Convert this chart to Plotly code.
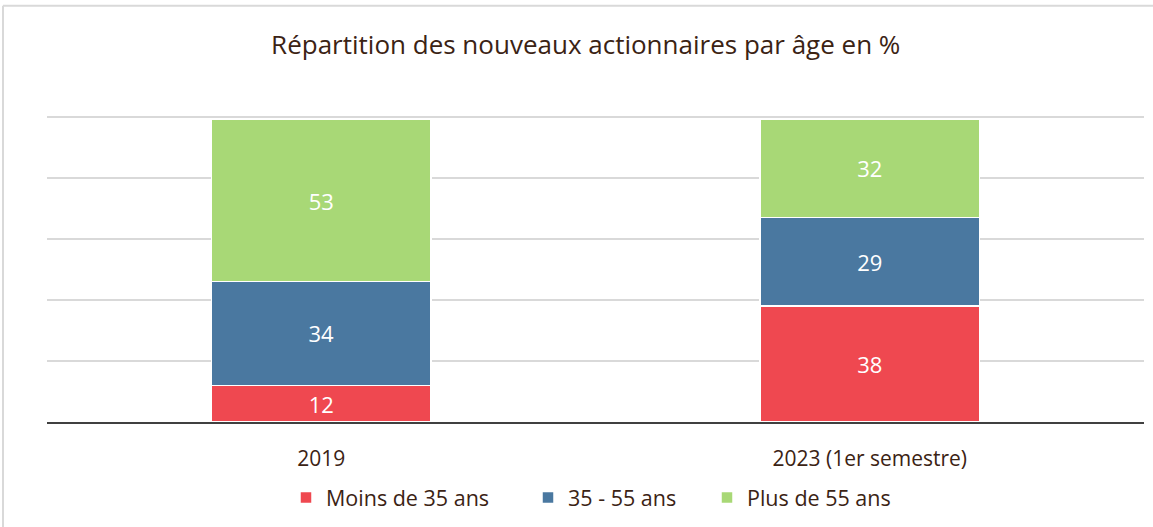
import plotly.graph_objects as go

categories = ["2019", "2023 (1er semestre)"]
series_names = ["Moins de 35 ans", "35 - 55 ans", "Plus de 55 ans"]
moins_35 = [12, 38]
de_35_55 = [34, 29]
plus_55 = [53, 32]
colors = ["#EF4850", "#4A78A0", "#A8D876"]

values = [moins_35, de_35_55, plus_55]
text_color = "#3B2314"
font_family = "'Open Sans', Lato, sans-serif"

W, H = 1153, 527
L, R, T, B = 47, 9, 115, 103
plot_w = W - L - R
plot_h = H - T - B

legend_names = ["legend", "legend2", "legend3"]
legend_item_px = [286, 528, 707]

fig = go.Figure()
for name, vals, col, lg in zip(series_names, values, colors, legend_names):
    fig.add_trace(go.Bar(
        x=categories, y=vals, name=name, legend=lg,
        marker=dict(color=col, line=dict(color="white", width=1.5)),
        text=[str(v) for v in vals], textposition="inside",
        insidetextanchor="middle",
        textfont=dict(color="white", size=22, family=font_family),
        hoverinfo="skip",
    ))

leg_y = (H - B - 500) / plot_h
legend_common = dict(orientation="h", y=leg_y, yanchor="middle", xanchor="left",
                     font=dict(size=21.5, color=text_color, family=font_family),
                     bgcolor="rgba(0,0,0,0)", itemwidth=30)

fig.update_layout(
    barmode="stack",
    bargap=0.6,
    width=W, height=H,
    margin=dict(l=L, r=R, t=T, b=B),
    paper_bgcolor="white", plot_bgcolor="white",
    title=dict(text="Répartition des nouveaux actionnaires par âge en %",
               x=0.508, xanchor="center", y=1 - 45 / H, yanchor="middle",
               font=dict(size=26, color=text_color, family=font_family)),
    font=dict(family=font_family, color=text_color),
    showlegend=True,
    legend=dict(x=(legend_item_px[0] - L) / plot_w, **legend_common),
    legend2=dict(x=(legend_item_px[1] - L) / plot_w, **legend_common),
    legend3=dict(x=(legend_item_px[2] - L) / plot_w, **legend_common),
    uniformtext=dict(mode="show", minsize=10),
)
fig.update_xaxes(showline=True, linecolor="#404040", linewidth=2,
                 tickfont=dict(size=21, color=text_color, family=font_family),
                 ticks="", ticklabelstandoff=17, automargin=False)
fig.update_yaxes(range=[0, 100.5], dtick=20, showticklabels=False,
                 gridcolor="#D9D9D9", gridwidth=1.5, zeroline=False, automargin=False)

# outer light border (top and left)
top_y = (H - B - 5) / plot_h
left_x = (3 - L) / plot_w
fig.add_shape(type="line", xref="paper", yref="paper",
              x0=left_x, x1=1.01, y0=top_y, y1=top_y,
              line=dict(color="#D9D9D9", width=2))
fig.add_shape(type="line", xref="paper", yref="paper",
              x0=left_x, x1=left_x, y0=top_y, y1=-0.4,
              line=dict(color="#D9D9D9", width=2))

fig.write_html("out.html", config={"displayModeBar": False},
               post_script="document.body.style.margin='0';document.body.style.overflow='hidden';")
